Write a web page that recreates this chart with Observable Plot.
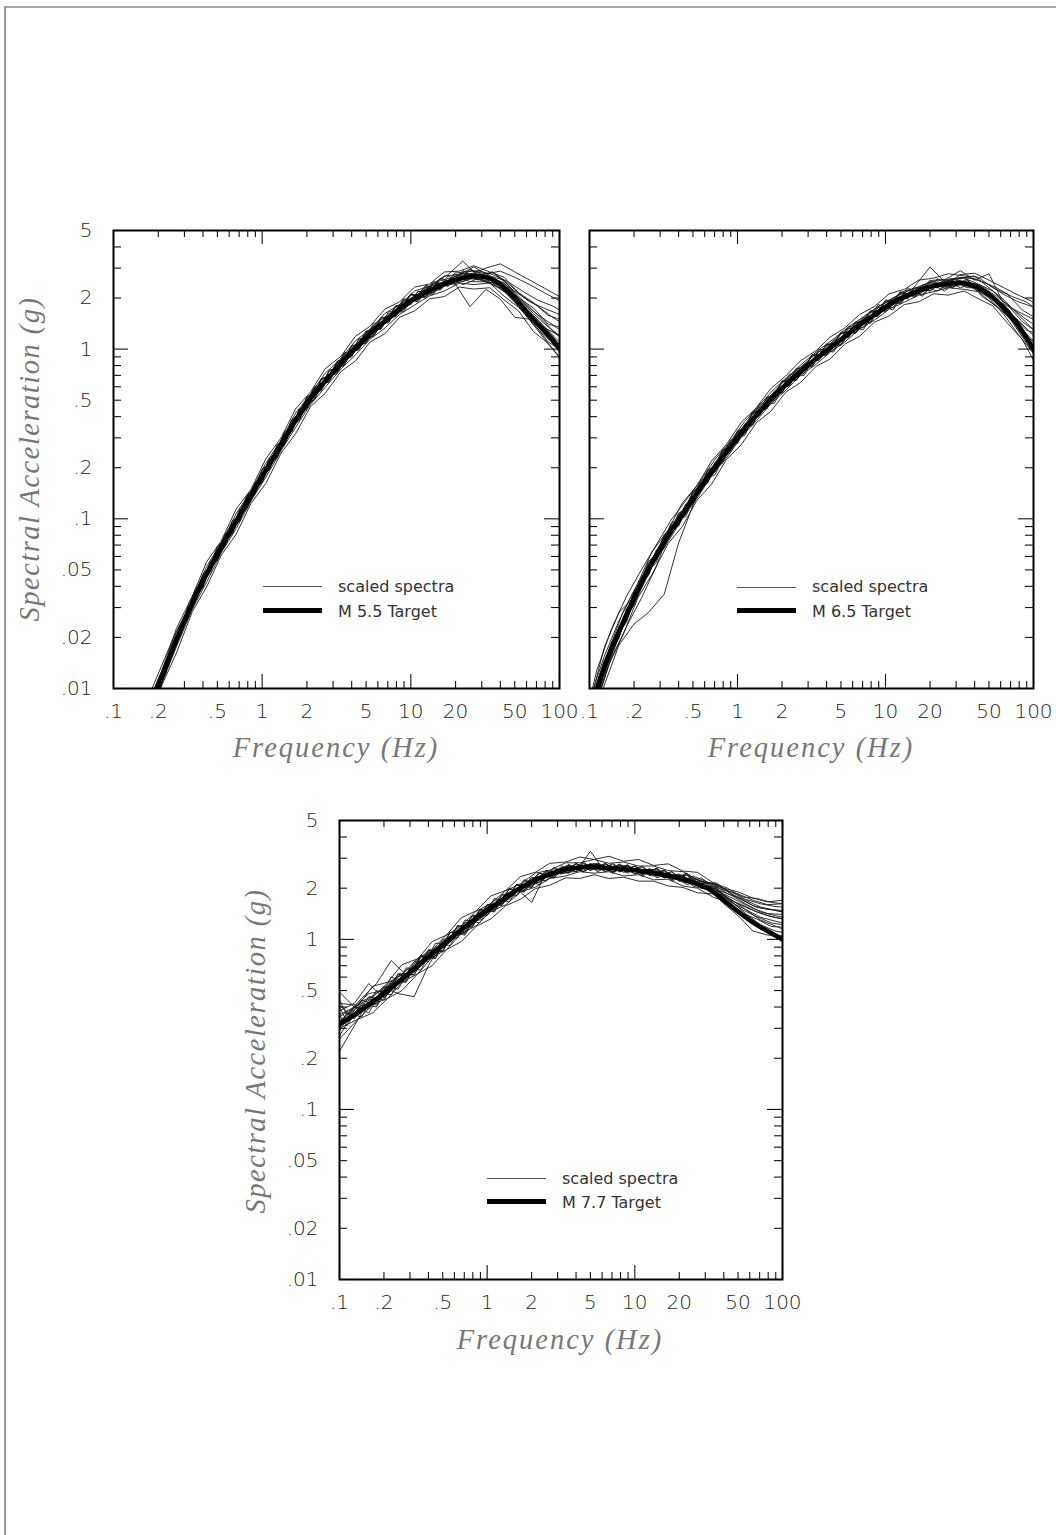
<!DOCTYPE html>
<html>
<head>
<meta charset="utf-8">
<script src="https://cdn.jsdelivr.net/npm/d3@7"></script>
<script src="https://cdn.jsdelivr.net/npm/@observablehq/plot@0.6"></script>
<style>
html, body { margin: 0; padding: 0; background: #fff; }
#page { position: relative; width: 1056px; height: 1535px; overflow: hidden; background: #fff; }
.bt { position: absolute; left: 4px; top: 6px; width: 1052px; height: 2px; background: #aaa; }
.bl { position: absolute; left: 4px; top: 6px; width: 2px; height: 1529px; background: #999; }
.panel { position: absolute; }
.ytitle { position: absolute; font-family: "Liberation Serif", serif; font-style: italic; font-size: 28.5px;
  line-height: 32px; letter-spacing: 1.5px; color: #777; white-space: nowrap;
  transform: translate(-50%, -50%) rotate(-90deg); }
.xtitle { position: absolute; font-family: "Liberation Serif", serif; font-style: italic; font-size: 28.5px;
  line-height: 32px; letter-spacing: 2px; color: #777; white-space: nowrap; transform: translate(-50%, 0); }
.lgtext { position: absolute; font-family: "DejaVu Sans", sans-serif; font-size: 16px; line-height: 16px;
  color: #333; white-space: nowrap; }
.lgthin { position: absolute; height: 1px; background: #555; }
.lgthick { position: absolute; height: 5px; background: #000; }
</style>
</head>
<body>
<div id="page">
  <div class="bt"></div><div class="bl"></div>
</div>
<script>
// ---------------- data ----------------
// frequency grids (Hz) on which the spectra were read
const freqGrid = [0.1,0.126,0.158,0.2,0.25,0.32,0.4,0.5,0.63,0.79,1,1.26,1.58,2,2.5,3.2,4,5,6.3,7.9,10,12.6,15.8,20,25,32,40,50,63,79,100];
const freqGridB = [0.1,0.112,0.141,0.178,0.224,0.282,0.355,0.447,0.562,0.708,0.891,1.12,1.41,1.78,2.24,2.82,3.55,4.47,5.62,7.08,8.91,11.2,14.1,17.8,22.4,28.2,35.5,44.7,56.2,70.8,89.1,100];
const freqGridC = [0.1,0.134,0.168,0.212,0.265,0.34,0.424,0.53,0.668,0.84,1.06,1.34,1.68,2.12,2.65,3.4,4.24,5.3,6.68,8.4,10.6,13.4,16.8,21.2,26.5,34,42.4,53,66.8,84,100];
const freqM55 = [0.158,0.2,0.25,0.32,0.4,0.5,0.63,0.79,1,1.26,1.58,2,2.5,3.2,4,5,6.3,7.9,10,12.6,15.8,20,25,32,40,50,63,79,100];
const freqM55B = [0.178,0.224,0.282,0.355,0.447,0.562,0.708,0.891,1.12,1.41,1.78,2.24,2.82,3.55,4.47,5.62,7.08,8.91,11.2,14.1,17.8,22.4,28.2,35.5,44.7,56.2,70.8,89.1,100];
const freqM55C = [0.168,0.212,0.265,0.34,0.424,0.53,0.668,0.84,1.06,1.34,1.68,2.12,2.65,3.4,4.24,5.3,6.68,8.4,10.6,13.4,16.8,21.2,26.5,34,42.4,53,66.8,84,100];

// M 5.5 target and scaled spectra (g)
const targetM55 = [0.0058,0.0102,0.0170,0.0285,0.043,0.062,0.088,0.125,0.177,0.249,0.348,0.48,0.61,0.78,0.96,1.17,1.40,1.65,1.93,2.16,2.37,2.56,2.68,2.65,2.4,2.0,1.58,1.28,1.02];
const spectraM55 = [
  [0.0075,0.0122,0.0195,0.030,0.040,0.069,0.082,0.138,0.163,0.272,0.325,0.525,0.57,0.85,0.91,1.28,1.33,1.80,1.86,2.38,2.22,2.85,2.75,3.0,3.18,2.85,2.55,2.29,2.04],
  [0.0070,0.0113,0.0160,0.0315,0.0465,0.057,0.097,0.114,0.196,0.228,0.38,0.445,0.67,0.72,1.04,1.10,1.52,1.58,2.1,2.05,2.6,2.45,2.9,2.78,2.88,2.65,2.4,2.15,1.93],
  [0.0066,0.0108,0.0185,0.0262,0.0475,0.0575,0.095,0.118,0.19,0.236,0.375,0.455,0.665,0.74,1.02,1.12,1.5,1.57,2.08,2.04,2.55,2.4,1.78,2.25,1.97,1.54,1.50,1.34,1.20],
  [0.0063,0.0095,0.0182,0.0298,0.0395,0.0675,0.081,0.136,0.165,0.27,0.33,0.515,0.575,0.84,0.9,1.27,1.31,1.78,1.84,2.34,2.25,2.78,2.6,2.55,2.5,2.2,1.9,1.74,1.60],
  [0.0064,0.0111,0.0158,0.0305,0.0405,0.066,0.084,0.133,0.168,0.266,0.33,0.51,0.58,0.83,0.92,1.26,1.33,1.77,1.83,2.3,2.28,2.7,2.5,2.49,2.3,1.94,1.485,1.152,0.89],
  [0.0069,0.0100,0.0188,0.0272,0.0468,0.0585,0.096,0.117,0.194,0.232,0.384,0.45,0.66,0.73,1.05,1.08,1.54,1.55,2.12,2.0,2.62,2.42,2.95,2.7,2.45,1.96,1.64,1.36,1.10]
];
const spectraM55B = [
  [0.0088,0.0145,0.0205,0.0385,0.048,0.081,0.098,0.163,0.195,0.325,0.38,0.6,0.64,0.95,0.99,1.42,1.43,1.98,1.9,2.5,2.35,2.9,2.55,2.85,2.45,2.05,1.8,1.55,1.45],
  [0.0082,0.0122,0.0238,0.0325,0.056,0.069,0.115,0.139,0.228,0.272,0.445,0.5,0.75,0.8,1.15,1.19,1.66,1.66,2.2,2.1,2.7,2.4,2.6,2.45,2.3,1.9,1.6,1.4,1.3],
  [0.0085,0.0138,0.0212,0.0378,0.0495,0.08,0.099,0.16,0.198,0.318,0.385,0.59,0.645,0.94,1.0,1.38,1.45,1.95,1.94,2.45,2.35,2.8,2.6,2.45,2.1,1.72,1.38,1.1,0.95],
  [0.0079,0.0141,0.0206,0.0372,0.0485,0.0795,0.097,0.158,0.197,0.31,0.39,0.58,0.66,0.92,1.0,1.36,1.44,1.92,1.95,2.42,2.75,3.3,2.7,2.85,2.4,1.95,1.6,1.3,1.2],
  [0.0081,0.0125,0.0234,0.033,0.055,0.0695,0.112,0.14,0.225,0.275,0.44,0.505,0.74,0.805,1.13,1.2,1.62,1.7,2.18,2.15,2.62,2.5,2.75,2.6,2.25,1.85,1.5,1.2,1.05],
  [0.0084,0.0128,0.0215,0.0368,0.05,0.078,0.108,0.155,0.205,0.305,0.42,0.57,0.71,0.9,1.08,1.33,1.55,1.88,2.1,2.38,2.55,2.85,2.9,2.75,2.5,2.2,1.95,1.8,1.7]
];
const spectraM55C = [
  [0.0079,0.0128,0.0226,0.0352,0.056,0.074,0.114,0.149,0.226,0.3,0.445,0.56,0.765,0.91,1.19,1.36,1.72,1.9,2.32,2.42,2.85,2.88,3.1,2.85,2.65,2.15,1.88,1.58,1.5],
  [0.0058,0.0105,0.0162,0.0285,0.0398,0.061,0.081,0.123,0.162,0.244,0.318,0.46,0.548,0.74,0.85,1.1,1.23,1.54,1.68,1.98,2.04,2.32,2.26,2.3,1.95,1.68,1.27,1.08,0.9],
  [0.0074,0.0122,0.0215,0.0335,0.0525,0.072,0.107,0.146,0.213,0.29,0.42,0.545,0.72,0.88,1.12,1.3,1.62,1.83,2.2,2.35,2.7,2.75,3.05,2.7,2.55,2.0,1.75,1.4,1.35],
  [0.0062,0.0108,0.0176,0.0295,0.0425,0.063,0.0875,0.127,0.176,0.252,0.346,0.474,0.595,0.765,0.925,1.14,1.33,1.6,1.82,2.06,2.2,2.45,2.4,2.45,2.05,1.76,1.42,1.1,1.0],
  [0.0071,0.0124,0.0195,0.034,0.0478,0.072,0.098,0.144,0.198,0.285,0.385,0.54,0.665,0.86,1.04,1.3,1.49,1.8,2.02,2.35,2.45,2.75,2.8,2.68,2.45,2.0,1.62,1.35,1.18],
  [0.0064,0.0109,0.0188,0.0298,0.0462,0.0635,0.094,0.128,0.188,0.256,0.366,0.482,0.63,0.785,0.98,1.16,1.42,1.64,1.93,2.1,2.35,2.48,2.62,2.45,2.2,1.78,1.4,1.15,0.98]
];

// M 6.5 target and scaled spectra (g)
const targetM65 = [0.0068,0.0133,0.0216,0.034,0.0503,0.073,0.0984,0.131,0.176,0.230,0.30,0.384,0.477,0.589,0.702,0.843,0.98,1.14,1.335,1.535,1.77,1.99,2.16,2.33,2.41,2.45,2.36,2.1,1.75,1.38,1.0];
const spectraM65 = [
  [0.0085,0.0155,0.025,0.0375,0.047,0.081,0.091,0.146,0.165,0.255,0.28,0.425,0.445,0.65,0.655,0.93,0.92,1.26,1.25,1.68,1.68,2.18,2.05,2.55,2.35,2.75,2.8,2.55,2.3,2.08,1.89],
  [0.0050,0.0105,0.018,0.024,0.028,0.036,0.072,0.12,0.185,0.215,0.325,0.36,0.5,0.56,0.74,0.8,1.06,1.05,1.42,1.45,1.9,1.85,2.3,2.2,2.55,2.3,2.45,2.1,1.75,1.48,1.2],
  [0.0080,0.0175,0.028,0.0345,0.056,0.068,0.108,0.122,0.195,0.215,0.33,0.36,0.52,0.55,0.77,0.79,1.07,1.06,1.45,1.42,1.95,1.9,2.35,3.05,2.5,2.65,2.6,2.4,2.1,1.9,1.77],
  [0.0074,0.0125,0.0232,0.031,0.055,0.067,0.107,0.124,0.192,0.212,0.328,0.355,0.52,0.555,0.765,0.79,1.07,1.07,1.42,1.44,1.92,1.88,2.3,2.2,2.55,2.9,2.55,2.78,1.85,1.66,1.5],
  [0.0060,0.0142,0.0198,0.0372,0.0462,0.079,0.092,0.143,0.163,0.25,0.28,0.42,0.45,0.64,0.66,0.92,0.92,1.25,1.24,1.67,1.66,2.17,2.02,2.5,2.28,2.62,2.7,2.3,1.96,1.59,1.3],
  [0.0077,0.0148,0.0205,0.0365,0.0468,0.0795,0.091,0.143,0.167,0.248,0.283,0.415,0.452,0.642,0.66,0.915,0.93,1.23,1.26,1.64,1.7,2.12,2.08,2.45,2.2,2.55,2.3,2.0,1.6,1.22,0.94]
];
const spectraM65B = [
  [0.0078,0.0108,0.0188,0.0245,0.0455,0.055,0.094,0.103,0.168,0.182,0.29,0.31,0.475,0.48,0.71,0.7,1.0,0.96,1.36,1.3,1.83,1.7,2.3,2.05,2.6,2.3,2.6,2.05,1.8,1.48,1.2,1.1],
  [0.0060,0.0085,0.0152,0.0232,0.034,0.052,0.09,0.108,0.16,0.21,0.25,0.355,0.41,0.56,0.61,0.81,0.86,1.1,1.18,1.5,1.58,1.95,2.0,2.35,2.3,2.55,2.3,2.3,1.85,1.5,1.15,1.05],
  [0.0085,0.0128,0.0225,0.035,0.05,0.07,0.098,0.128,0.168,0.225,0.285,0.375,0.47,0.585,0.7,0.84,0.99,1.15,1.35,1.55,1.78,2.0,2.2,2.38,2.55,2.6,2.65,2.5,2.3,2.05,1.9,1.77],
  [0.0070,0.0098,0.016,0.0295,0.039,0.065,0.08,0.122,0.143,0.215,0.245,0.362,0.405,0.565,0.61,0.82,0.86,1.13,1.17,1.53,1.56,2.0,1.98,2.4,2.3,2.6,2.45,2.35,2.05,1.75,1.5,1.4],
  [0.0066,0.0102,0.0182,0.0252,0.044,0.057,0.091,0.106,0.162,0.189,0.28,0.32,0.455,0.5,0.685,0.725,0.97,0.99,1.32,1.34,1.76,1.76,2.22,2.1,2.5,2.3,2.55,2.15,1.98,1.62,1.3,1.25],
  [0.0072,0.0091,0.0178,0.0288,0.0395,0.064,0.082,0.119,0.145,0.212,0.252,0.356,0.41,0.556,0.615,0.805,0.875,1.1,1.19,1.5,1.6,1.96,2.0,2.34,2.2,2.5,2.35,2.28,1.88,1.5,1.12,0.98]
];
const spectraM65C = [
  [0.0082,0.0165,0.0281,0.0418,0.064,0.086,0.124,0.156,0.219,0.274,0.37,0.452,0.585,0.695,0.85,0.98,1.18,1.33,1.6,1.78,2.12,2.25,2.55,2.62,2.78,2.7,2.65,2.3,2.1,1.7,1.55],
  [0.0058,0.0136,0.0205,0.0342,0.0472,0.0715,0.09,0.128,0.16,0.223,0.273,0.368,0.43,0.558,0.632,0.792,0.875,1.07,1.19,1.44,1.57,1.83,1.9,2.12,2.08,2.2,1.98,1.8,1.42,1.14,0.86],
  [0.0075,0.0163,0.0255,0.0408,0.0582,0.0855,0.112,0.152,0.2,0.265,0.338,0.438,0.535,0.665,0.78,0.94,1.08,1.28,1.47,1.72,1.93,2.2,2.32,2.55,2.55,2.62,2.42,2.2,1.82,1.45,1.3],
  [0.0064,0.0138,0.0232,0.0348,0.053,0.0735,0.1,0.131,0.18,0.228,0.302,0.378,0.476,0.572,0.695,0.815,0.96,1.1,1.31,1.48,1.72,1.89,2.08,2.18,2.3,2.25,2.18,1.85,1.58,1.18,0.95],
  [0.0071,0.0148,0.0255,0.0372,0.0585,0.0795,0.111,0.142,0.198,0.248,0.335,0.41,0.53,0.62,0.77,0.88,1.07,1.19,1.45,1.6,1.9,2.05,2.3,2.38,2.55,2.45,2.4,2.05,1.75,1.3,1.12],
  [0.0066,0.0145,0.0232,0.0368,0.0525,0.0775,0.101,0.139,0.18,0.242,0.305,0.4,0.485,0.61,0.71,0.865,0.985,1.17,1.34,1.58,1.76,2.02,2.12,2.35,2.32,2.42,2.2,1.98,1.58,1.25,1.02]
];

// M 7.7 target and scaled spectra (g)
const targetM77 = [0.317,0.361,0.414,0.481,0.562,0.671,0.788,0.926,1.093,1.274,1.48,1.70,1.94,2.18,2.36,2.55,2.63,2.68,2.64,2.60,2.55,2.48,2.40,2.30,2.15,1.97,1.70,1.46,1.26,1.12,1.0];
const spectraM77 = [
  [0.49,0.40,0.48,0.50,0.62,0.64,0.87,0.86,1.2,1.2,1.6,1.62,2.1,2.05,2.5,2.45,2.8,2.55,2.8,2.5,2.7,2.4,2.55,2.2,2.35,2.15,2.0,1.9,1.75,1.66,1.70],
  [0.38,0.42,0.55,0.45,0.63,0.62,0.86,0.85,1.2,1.18,1.58,1.6,2.08,2.02,2.5,2.42,2.78,2.55,2.78,2.5,2.68,2.38,2.52,2.22,2.3,2.1,1.95,1.85,1.7,1.6,1.62],
  [0.29,0.40,0.39,0.52,0.48,0.46,0.70,0.98,1.02,1.36,1.38,1.82,1.8,2.3,2.2,2.65,2.5,2.8,2.5,2.75,2.42,2.6,2.3,2.4,2.1,2.15,1.98,1.75,1.58,1.5,1.48],
  [0.22,0.31,0.44,0.46,0.58,0.65,0.83,0.92,1.14,1.22,1.55,1.66,2.0,1.65,2.45,2.48,2.5,2.76,2.56,2.72,2.5,2.58,2.32,2.42,2.15,2.05,1.85,1.68,1.52,1.42,1.4],
  [0.41,0.34,0.46,0.44,0.61,0.62,0.84,0.85,1.2,1.18,1.6,1.58,2.1,2.02,2.55,2.45,2.78,2.55,2.78,2.5,2.7,2.38,2.55,2.2,2.25,1.95,1.8,1.62,1.48,1.38,1.32],
  [0.35,0.40,0.37,0.53,0.51,0.74,0.74,1.0,1.03,1.38,1.4,1.84,1.82,2.32,2.22,2.7,2.5,3.3,2.5,2.78,2.42,2.6,2.3,2.38,2.05,1.95,1.62,1.38,1.12,1.06,1.05]
];
const spectraM77B = [
  [0.44,0.36,0.45,0.55,0.75,0.62,0.8,0.8,1.1,1.1,1.5,1.5,1.98,1.95,2.45,2.35,2.75,2.55,2.8,2.5,2.72,2.42,2.6,2.25,2.38,2.2,2.1,1.9,1.72,1.62,1.56,1.55],
  [0.30,0.37,0.35,0.5,0.47,0.68,0.66,0.95,0.92,1.3,1.25,1.74,1.66,2.24,2.1,2.65,2.45,2.85,2.5,2.8,2.45,2.7,2.3,2.5,2.1,2.2,1.95,1.72,1.5,1.35,1.28,1.25],
  [0.36,0.31,0.42,0.40,0.57,0.56,0.8,0.78,1.1,1.08,1.5,1.46,1.98,1.9,2.45,2.3,2.75,2.5,2.8,2.45,2.75,2.35,2.62,2.2,2.42,2.0,2.0,1.65,1.5,1.3,1.2,1.15],
  [0.33,0.36,0.43,0.48,0.55,0.66,0.7,0.9,0.96,1.25,1.3,1.7,1.72,2.2,2.15,2.6,2.45,2.8,2.55,2.75,2.5,2.65,2.35,2.5,2.15,2.3,1.98,1.82,1.62,1.45,1.38,1.35],
  [0.27,0.32,0.41,0.42,0.55,0.58,0.78,0.8,1.05,1.12,1.45,1.5,1.9,1.95,2.35,2.35,2.7,2.5,2.75,2.5,2.7,2.4,2.6,2.25,2.4,2.1,2.02,1.68,1.42,1.22,1.12,1.10],
  [0.4,0.33,0.44,0.41,0.6,0.56,0.8,0.77,1.1,1.06,1.48,1.45,1.98,1.9,2.45,2.3,2.72,2.5,2.76,2.5,2.72,2.42,2.62,2.25,2.45,2.15,2.15,1.85,1.7,1.55,1.48,1.45]
];
const spectraM77C = [
  [0.42,0.41,0.53,0.56,0.71,0.77,0.97,1.06,1.34,1.47,1.8,1.94,2.34,2.48,2.8,2.85,3.05,2.95,3.08,2.88,2.95,2.72,2.78,2.52,2.48,2.15,2.0,1.78,1.74,1.65,1.62],
  [0.26,0.34,0.37,0.45,0.5,0.63,0.7,0.87,0.97,1.19,1.32,1.58,1.72,1.99,2.08,2.3,2.28,2.4,2.28,2.32,2.2,2.2,2.06,2.02,1.88,1.85,1.62,1.42,1.24,1.1,1.02],
  [0.36,0.41,0.46,0.555,0.62,0.775,0.87,1.06,1.2,1.46,1.63,1.94,2.12,2.45,2.55,2.82,2.82,2.95,2.8,2.85,2.7,2.7,2.54,2.5,2.24,2.1,1.86,1.72,1.54,1.5,1.45],
  [0.3,0.34,0.415,0.45,0.56,0.63,0.785,0.87,1.08,1.2,1.46,1.6,1.9,2.03,2.28,2.36,2.5,2.45,2.5,2.36,2.4,2.24,2.26,2.06,2.0,1.77,1.65,1.43,1.32,1.19,1.18],
  [0.33,0.4,0.43,0.53,0.59,0.74,0.82,1.01,1.15,1.38,1.55,1.84,2.0,2.32,2.42,2.7,2.64,2.8,2.65,2.72,2.55,2.58,2.38,2.36,2.12,2.0,1.72,1.6,1.45,1.36,1.32],
  [0.31,0.36,0.425,0.475,0.575,0.67,0.81,0.92,1.12,1.27,1.5,1.68,1.98,2.12,2.42,2.45,2.65,2.58,2.68,2.48,2.55,2.36,2.4,2.16,2.12,1.88,1.72,1.5,1.36,1.25,1.22]
];

// axes
const xTickValues = [0.1,0.2,0.5,1,2,5,10,20,50,100];
const xTickLabels = [".1",".2",".5","1","2","5","10","20","50","100"];
const yTickValues = [0.01,0.02,0.05,0.1,0.2,0.5,1,2,5];
const yTickLabels = [".01",".02",".05",".1",".2",".5","1","2","5"];
const xMajorTicks = [0.1,1,10,100];
const xMinorTicks = [0.2,0.3,0.4,0.5,0.6,0.7,0.8,0.9,2,3,4,5,6,7,8,9,20,30,40,50,60,70,80,90];
const yMajorTicks = [0.01,0.1,1];
const yMinorTicks = [0.02,0.03,0.04,0.05,0.06,0.07,0.08,0.09,0.2,0.3,0.4,0.5,0.6,0.7,0.8,0.9,2,3,4,5];
const legendLabels = ["scaled spectra","M 5.5 Target","M 6.5 Target","M 7.7 Target"];
const xTitle = "Frequency (Hz)";
const yTitle = "Spectral Acceleration (g)";

// ---------------- drawing ----------------
const xFmt = new Map(xTickValues.map((v, i) => [v, xTickLabels[i]]));
const yFmt = new Map(yTickValues.map((v, i) => [v, yTickLabels[i]]));
const page = document.getElementById("page");
const tickFont = {fontSize: 20, fontFamily: "DejaVu Sans", fontWeight: 300, fill: "#222"};

function makePanel(c) {
  const pw = c.W - c.mL - c.mR, ph = c.H - c.mT - c.mB;
  const thin = [];
  c.groups.forEach((g, gi) => g.spectra.forEach((s, k) =>
    s.forEach((v, i) => thin.push({f: g.freqs[i], v, k: gi + "-" + k}))));
  const tgt = c.target.map((v, i) => ({f: c.freqs[i], v}));
  const ts = {stroke: "#111", strokeWidth: 1.1};
  const marks = [
    Plot.line(thin, {x: "f", y: "v", z: "k", stroke: "#1a1a1a", strokeWidth: 0.9, clip: true}),
    Plot.line(tgt, {x: "f", y: "v", stroke: "#000", strokeWidth: 4.6, curve: "natural", clip: true}),
    Plot.tickX(xMajorTicks, {x: d => d, insetTop: ph - 14, ...ts}),
    Plot.tickX(xMinorTicks, {x: d => d, insetTop: ph - 7, ...ts}),
    Plot.tickX(xMajorTicks, {x: d => d, insetBottom: ph - 14, ...ts}),
    Plot.tickX(xMinorTicks, {x: d => d, insetBottom: ph - 7, ...ts}),
    Plot.tickY(yMajorTicks, {y: d => d, insetRight: pw - 15, ...ts}),
    Plot.tickY(yMinorTicks, {y: d => d, insetRight: pw - 8, ...ts}),
    Plot.tickY(yMajorTicks, {y: d => d, insetLeft: pw - 15, ...ts}),
    Plot.tickY(yMinorTicks, {y: d => d, insetLeft: pw - 8, ...ts}),
    Plot.frame({stroke: "#000", strokeWidth: 2}),
    Plot.text(xTickValues, {x: d => d, text: d => xFmt.get(d), frameAnchor: "bottom", lineAnchor: "top", dy: 15, ...tickFont})
  ];
  if (c.showY) marks.push(Plot.text(yTickValues, {y: d => d, text: d => yFmt.get(d), frameAnchor: "left", textAnchor: "end", lineAnchor: "middle", dx: -21, ...tickFont}));
  const svg = Plot.plot({
    width: c.W, height: c.H, marginLeft: c.mL, marginRight: c.mR, marginTop: c.mT, marginBottom: c.mB,
    x: {type: "log", domain: [0.1, 100], axis: null},
    y: {type: "log", domain: [0.01, 5], axis: null},
    style: {background: "transparent", overflow: "visible"},
    marks
  });
  const wrap = document.createElement("div");
  wrap.className = "panel";
  wrap.style.left = c.left + "px";
  wrap.style.top = c.top + "px";
  wrap.appendChild(svg);
  page.appendChild(wrap);
}

function addText(cls, text, x, y) {
  const d = document.createElement("div");
  d.className = cls; d.textContent = text;
  d.style.left = x + "px"; d.style.top = y + "px";
  page.appendChild(d);
}
function addSwatch(cls, x1, x2, y) {
  const d = document.createElement("div");
  d.className = cls;
  d.style.left = x1 + "px"; d.style.width = (x2 - x1) + "px"; d.style.top = y + "px";
  page.appendChild(d);
}

makePanel({freqs: freqM55, target: targetM55,
  groups: [{freqs: freqM55, spectra: spectraM55}, {freqs: freqM55B, spectra: spectraM55B}, {freqs: freqM55C, spectra: spectraM55C}],
  left: 0, top: 200, W: 590, H: 520, mL: 113, mR: 31, mT: 30, mB: 32, showY: true});
makePanel({freqs: freqGrid, target: targetM65,
  groups: [{freqs: freqGrid, spectra: spectraM65}, {freqs: freqGridB, spectra: spectraM65B}, {freqs: freqGridC, spectra: spectraM65C}],
  left: 570, top: 200, W: 486, H: 520, mL: 19, mR: 23, mT: 30, mB: 32, showY: false});
makePanel({freqs: freqGrid, target: targetM77,
  groups: [{freqs: freqGrid, spectra: spectraM77}, {freqs: freqGridB, spectra: spectraM77B}, {freqs: freqGridC, spectra: spectraM77C}],
  left: 240, top: 790, W: 570, H: 520, mL: 99, mR: 28, mT: 30, mB: 31, showY: true});

// axis titles
addText("ytitle", yTitle, 30.4, 459);
addText("ytitle", yTitle, 256.4, 1051);
addText("xtitle", xTitle, 336, 732.4);
addText("xtitle", xTitle, 811, 732.4);
addText("xtitle", xTitle, 560, 1324.4);

// legends
const legends = [
  {x1: 263, x2: 322, tx: 338, y1: 586.2, y2: 608, t1: 579, t2: 603.8, label: legendLabels[1]},
  {x1: 737, x2: 796, tx: 812, y1: 586.6, y2: 607.7, t1: 579.4, t2: 603.5, label: legendLabels[2]},
  {x1: 487, x2: 546, tx: 562, y1: 1177.6, y2: 1199.1, t1: 1170.5, t2: 1194.9, label: legendLabels[3]}
];
for (const g of legends) {
  addSwatch("lgthin", g.x1, g.x2, g.y1);
  addSwatch("lgthick", g.x1, g.x2, g.y2);
  addText("lgtext", legendLabels[0], g.tx, g.t1);
  addText("lgtext", g.label, g.tx, g.t2);
}
</script>
</body>
</html>
